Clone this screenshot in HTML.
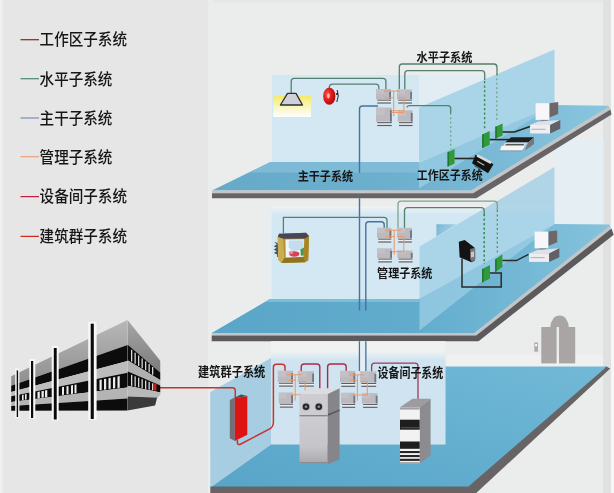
<!DOCTYPE html>
<html lang="zh"><head><meta charset="utf-8"><title>综合布线系统</title>
<style>
html,body{margin:0;padding:0;background:#ececec;}
body{width:614px;height:493px;overflow:hidden;font-family:"Liberation Sans","Noto Sans CJK SC",sans-serif;}
svg{display:block;}
svg text{font-family:"Liberation Sans","Noto Sans CJK SC",sans-serif;}
</style></head><body>
<svg width="614" height="493" viewBox="0 0 614 493">
<filter id="soft" x="-2%" y="-2%" width="104%" height="104%" color-interpolation-filters="sRGB"><feGaussianBlur stdDeviation="0.5"/></filter>
<rect x="-5" y="-5" width="624" height="503" fill="#ebecec"/>
<g filter="url(#soft)">
<defs>
<linearGradient id="glow" x1="0" y1="0" x2="0" y2="1"><stop offset="0" stop-color="#f3ea6a"/><stop offset="0.45" stop-color="#f8f4b4"/><stop offset="1" stop-color="#ffffff"/></linearGradient>
<linearGradient id="fl1" x1="0" y1="0" x2="1" y2="0"><stop offset="0" stop-color="#66aac9"/><stop offset="0.45" stop-color="#6cb0ce"/><stop offset="0.75" stop-color="#7cbbd7"/><stop offset="1" stop-color="#89c5de"/></linearGradient>
<linearGradient id="fl2" x1="0" y1="0" x2="1" y2="0"><stop offset="0" stop-color="#5aa6c8"/><stop offset="0.5" stop-color="#61accd"/><stop offset="0.8" stop-color="#76b9d6"/><stop offset="1" stop-color="#86c3dc"/></linearGradient>
<linearGradient id="fl3" x1="0" y1="1" x2="1" y2="0"><stop offset="0" stop-color="#58a5c8"/><stop offset="0.5" stop-color="#64afd0"/><stop offset="1" stop-color="#72b9d6"/></linearGradient>
<linearGradient id="bw" x1="0" y1="0" x2="0" y2="1"><stop offset="0" stop-color="#d2e7f3"/><stop offset="1" stop-color="#d8eaf4"/></linearGradient>
<radialGradient id="alarm" cx="0.35" cy="0.4" r="0.7"><stop offset="0" stop-color="#ff5a4a"/><stop offset="0.5" stop-color="#e01818"/><stop offset="1" stop-color="#a80808"/></radialGradient>
<linearGradient id="bldTop" x1="0" y1="0" x2="0" y2="1"><stop offset="0" stop-color="#b8b8b8"/><stop offset="1" stop-color="#8e8e8e"/></linearGradient>
<linearGradient id="bldSide" x1="0" y1="0" x2="0" y2="1"><stop offset="0" stop-color="#a6a6a6"/><stop offset="1" stop-color="#7c7c7c"/></linearGradient>

</defs>
<rect x="-5.0" y="-5.0" width="624.0" height="503.0" fill="#ebecec" />
<rect x="-5.0" y="-5.0" width="213.0" height="503.0" fill="#e6e6e6" />
<rect x="603.0" y="-5.0" width="8.0" height="503.0" fill="#e0e2e2" />
<rect x="611.0" y="-5.0" width="8.0" height="503.0" fill="#f6f6f6" />
<rect x="213.0" y="-5.0" width="390.0" height="7.6" fill="#e8e5e5" />
<rect x="-5.0" y="-5.0" width="7.5" height="503.0" fill="#f0f0f0" />
<linearGradient id="fade" x1="0" y1="0" x2="0" y2="1"><stop offset="0" stop-color="#f1f3f4"/><stop offset="1" stop-color="#d4e8f3"/></linearGradient>
<polygon points="271.5,214.0 554.5,214.0 554.5,224.0 419.0,299.5 271.5,299.5" fill="#d4e8f3" />
<rect x="271.5" y="206.5" width="283.0" height="8.0" fill="url(#fade)" />
<rect x="266.0" y="206.5" width="5.5" height="93.0" fill="#e6eef3" fill-opacity="0.6"/>
<rect x="554.5" y="140.0" width="49.0" height="84.5" fill="#e4eef3" />
<polygon points="211.7,333.0 269.8,299.0 419.0,299.0 554.5,224.0 609.0,224.5 610.5,226.5 474.5,333.0" fill="url(#fl2)" />
<polygon points="269.8,299.0 419.0,299.0 419.0,302.0 264.7,302.0" fill="#8cc4dc" fill-opacity="0.7"/>
<linearGradient id="tri" x1="0" y1="0" x2="1" y2="0.3"><stop offset="0" stop-color="#7ab5d4"/><stop offset="1" stop-color="#a9d2e6"/></linearGradient>
<polygon points="436.4,224.3 456.5,224.3 436.4,236.6" fill="url(#tri)" />
<polygon points="419.5,246.5 497.0,201.0 554.5,167.0 554.5,224.0 419.5,330.5" fill="#9ccde4" fill-opacity="0.75"/>
<polygon points="211.7,333.0 474.5,333.0 609.5,226.0 611.5,228.5 476.2,335.6 211.7,335.6" fill="#c2c6c8" />
<polygon points="211.7,335.6 476.2,335.6 611.5,228.5 613.7,234.8 478.5,341.2 211.7,341.2" fill="#5c5a5c" />
<rect x="272.0" y="75.0" width="147.0" height="88.0" fill="#d4e8f3" />
<rect x="419.0" y="75.0" width="79.0" height="40.0" fill="#e2edf3" />
<rect x="497.5" y="78.0" width="8.0" height="30.0" fill="#e7edf0" />
<polygon points="212.0,190.5 270.4,162.0 419.0,162.0 554.5,105.0 608.0,105.8 609.5,107.5 471.3,190.8" fill="url(#fl1)" />
<polygon points="270.4,162.0 419.0,162.0 419.0,172.5 249.0,172.5" fill="#86bfd9" fill-opacity="0.75"/>
<polygon points="419.0,107.5 554.5,49.5 554.5,105.0 419.0,163.0" fill="#d4e8f3" />
<polygon points="419.0,107.5 554.5,49.5 554.5,105.0 419.0,188.5" fill="#9ccde4" fill-opacity="0.75"/>
<polygon points="212.0,190.5 471.3,190.5 608.0,107.0 610.0,108.0 610.5,109.5 473.0,193.2 212.0,193.2" fill="#c2c6c8" />
<polygon points="212.0,193.2 473.0,193.2 610.5,109.5 611.5,114.5 476.3,198.3 212.0,198.3" fill="#686466" />
<rect x="446.0" y="355.0" width="157.0" height="12.0" fill="#f0f0f0" />
<linearGradient id="fade3" x1="0" y1="0" x2="0" y2="1"><stop offset="0" stop-color="#f0f2f3"/><stop offset="1" stop-color="#cfe4f0"/></linearGradient>
<rect x="271.0" y="341.2" width="174.5" height="10.0" fill="#f0f1f1" />
<rect x="271.0" y="351.0" width="174.5" height="10.0" fill="url(#fade3)" />
<rect x="271.0" y="360.8" width="174.5" height="83.7" fill="#cfe4f0" />
<polygon points="210.3,392.0 271.0,358.0 271.0,444.5 210.3,487.3" fill="#a6cde1" />
<polygon points="211.0,487.0 271.0,444.5 445.5,444.5 445.5,366.6 607.5,366.6 608.0,368.0 468.4,487.0" fill="url(#fl3)" />
<polygon points="210.3,486.6 468.4,486.6 604.6,368.5 606.0,366.6 610.3,368.6 469.8,499.0 210.3,499.0" fill="#686466" />
<path d="M550.4,327 A7.8,9.7 0 0 1 568.7,327 Z" fill="#a9a5a5"/>
<rect x="541.3" y="327.0" width="15.3" height="36.4" fill="#a9a5a5" />
<rect x="559.0" y="327.0" width="16.2" height="36.4" fill="#a9a5a5" />
<rect x="534.3" y="342.5" width="3.7" height="9.2" fill="#b0acac" />
<rect x="535.2" y="344.0" width="1.8" height="2.2" fill="#ffffff" />
<rect x="273.2" y="96.0" width="37.8" height="21.0" fill="url(#glow)" />
<path d="M291.2,93 V81.3 Q291.2,78.3 294.2,78.3 H382.9 Q385.9,78.3 385.9,81.3 V89" fill="none" stroke="#567f6e" stroke-width="1.3" />
<path d="M329.3,88.5 V87.4 Q329.3,84.2 332.7,84.2 H375.8 Q378.8,84.2 378.8,87.2 V89.3" fill="none" stroke="#567f6e" stroke-width="1.3" />
<polygon points="287.5,93.4 296,93.4 302.5,105 280.4,105" fill="#cfd0da" stroke="#2e2e2e" stroke-width="1.3" stroke-linejoin="round"/>
<path d="M337.2,90 Q339.5,96 336.8,102" fill="none" stroke="#3a2020" stroke-width="1"/>
<ellipse cx="329.3" cy="96.2" rx="6.1" ry="8.6" fill="url(#alarm)"/>
<ellipse cx="328.4" cy="95.8" rx="1.3" ry="2.6" fill="#ffd8d0" fill-opacity="0.85"/>
<circle cx="337" cy="94" r="1.1" fill="#1c1c1c"/>
<path d="M399.3,89 V67 Q399.3,64 402.3,64 H494 Q497,64.2 497,67.2 V75" fill="none" stroke="#567f6e" stroke-width="1.3" />
<path d="M404.8,89.5 V73.7 Q404.8,70.7 407.8,70.7 H481.7 Q484.7,70.7 484.7,73.7 V80" fill="none" stroke="#567f6e" stroke-width="1.3" />
<path d="M496.8,74 V121" fill="none" stroke="#62a374" stroke-width="1.2" stroke-dasharray="1.8 2.6"/>
<path d="M484.6,81 V130" fill="none" stroke="#3a8a4c" stroke-width="1.4" stroke-dasharray="2.2 2.3"/>
<path d="M407,107.6 Q407,105.6 410,105.6 H447.7 Q450.7,105.6 450.7,108.6 V113" fill="none" stroke="#567f6e" stroke-width="1.3" />
<path d="M450.7,113 V149" fill="none" stroke="#62a374" stroke-width="1.2" stroke-dasharray="1.8 2.6"/>
<path d="M378,106 H362.5 Q359.5,106 359.5,109 V172.7 M359.5,198.3 V310.5 M359.5,341.3 V371" fill="none" stroke="#4a70a0" stroke-width="1.4" />
<rect x="376.0" y="89.0" width="15.0" height="10.3" fill="#bcbabe" />
<rect x="376.0" y="89.0" width="8.2" height="5.1" fill="#c6c4c8" fill-opacity="0.7"/>
<rect x="389.2" y="91.5" width="1.8" height="7.8" fill="#74747e" />
<rect x="377.2" y="99.3" width="13.8" height="4.4" fill="#eceef0" />
<rect x="377.2" y="99.6" width="13.8" height="1.1" fill="#585e66" />
<rect x="377.2" y="102.4" width="13.8" height="1.2" fill="#585e66" />
<rect x="397.0" y="89.5" width="15.0" height="9.8" fill="#bcbabe" />
<rect x="397.0" y="89.5" width="8.2" height="4.9" fill="#c6c4c8" fill-opacity="0.7"/>
<rect x="410.2" y="92.0" width="1.8" height="7.3" fill="#74747e" />
<rect x="398.2" y="99.3" width="13.8" height="4.4" fill="#eceef0" />
<rect x="398.2" y="99.6" width="13.8" height="1.1" fill="#585e66" />
<rect x="398.2" y="102.4" width="13.8" height="1.2" fill="#585e66" />
<rect x="376.0" y="107.6" width="15.8" height="14.2" fill="#bcbabe" />
<rect x="376.0" y="107.6" width="8.7" height="7.1" fill="#c6c4c8" fill-opacity="0.7"/>
<rect x="390.0" y="110.1" width="1.8" height="11.7" fill="#74747e" />
<rect x="377.2" y="121.8" width="14.6" height="4.4" fill="#eceef0" />
<rect x="377.2" y="122.1" width="14.6" height="1.1" fill="#585e66" />
<rect x="377.2" y="124.9" width="14.6" height="1.2" fill="#585e66" />
<rect x="397.8" y="110.3" width="14.8" height="11.5" fill="#bcbabe" />
<rect x="397.8" y="110.3" width="8.1" height="5.8" fill="#c6c4c8" fill-opacity="0.7"/>
<rect x="410.8" y="112.8" width="1.8" height="9.0" fill="#74747e" />
<rect x="399.0" y="121.8" width="13.6" height="4.4" fill="#eceef0" />
<rect x="399.0" y="122.1" width="13.6" height="1.1" fill="#585e66" />
<rect x="399.0" y="124.9" width="13.6" height="1.2" fill="#585e66" />
<path d="M384.0,91.1 H400.0" fill="none" stroke="#e99a68" stroke-width="1.05" />
<path d="M384.7,97.7 H393.7 V116.3" fill="none" stroke="#e99a68" stroke-width="1.05" />
<path d="M393.7,91.1 V98.0" fill="none" stroke="#e99a68" stroke-width="1.05" />
<path d="M397.8,97.7 H403.9 V112.5 H391.3" fill="none" stroke="#e99a68" stroke-width="1.05" />
<path d="M391.3,110.8 H403.9" fill="none" stroke="#e99a68" stroke-width="1.05" />
<polygon points="447.6,152.2 454.6,149.0 454.6,163.5 447.6,166.7" fill="#2f9a3a" />
<polygon points="447.6,152.2 448.8,151.6 448.8,166.1 447.6,166.7" fill="#1d6a26" />
<polygon points="482.3,134.4 489.7,131.0 489.7,144.8 482.3,148.2" fill="#2f9a3a" />
<polygon points="482.3,134.4 483.5,133.8 483.5,147.6 482.3,148.2" fill="#1d6a26" />
<polygon points="495.4,126.8 502.6,123.6 502.6,135.6 495.4,138.8" fill="#2f9a3a" />
<polygon points="495.4,126.8 496.6,126.2 496.6,138.2 495.4,138.8" fill="#1d6a26" />
<path d="M454.6,158.5 H474" fill="none" stroke="#262626" stroke-width="1.6" />
<path d="M489.6,139.6 H509" fill="none" stroke="#262626" stroke-width="1.6" />
<path d="M502.5,132 H514.5 L530,126.6" fill="none" stroke="#262626" stroke-width="1.6" />
<polygon points="475.5,154.8 493.5,164.3 488.0,173.3 472.0,163.2" fill="#121212" />
<polygon points="477.6,154.2 491.6,161.6 490.4,164.0 476.4,156.6" fill="#dadada" />
<polygon points="477.5,160.8 484.5,164.8 484.0,165.8 477.0,161.8" fill="#bdbdbd" />
<polygon points="474.5,165.3 481.0,169.2 480.6,170.0 474.1,166.1" fill="#4a4a4a" />
<polygon points="505.0,142.6 511.0,137.3 534.0,137.3 528.0,142.6" fill="#1e1e1e" />
<polygon points="528.0,142.6 534.0,137.3 534.0,144.0 525.0,150.5" fill="#77777c" />
<polygon points="505.0,142.6 528.0,142.6 525.0,146.0 503.0,146.0" fill="#d6d6da" />
<polygon points="501.4,146.0 525.0,146.0 522.0,150.5 500.0,150.5" fill="#f4f4f6" />
<polygon points="506.0,144.3 524.0,144.3 523.5,145.2 505.5,145.2" fill="#2a2a2a" />
<polygon points="500.0,150.5 522.0,150.5 522.0,151.6 500.0,151.6" fill="#9c9ca2" />
<polygon points="549.3,103.2 558.2,102.0 558.2,113.9 549.3,117.5" fill="#6e6668" />
<polygon points="535.6,103.2 549.3,103.2 549.3,119.9 535.6,119.9" fill="#f7f7f9" />
<polygon points="540.6,119.9 547.6,119.9 547.6,121.8 540.6,121.8" fill="#8a8a90" />
<polygon points="530.1,125.0 538.6,121.6 560.3,119.9 550.1,125.0" fill="#e2e2e6" />
<polygon points="530.1,125.0 550.1,125.0 550.1,133.5 530.1,133.5" fill="#eeeef1" />
<polygon points="550.1,125.0 560.3,119.9 560.3,128.8 550.1,133.5" fill="#606066" />
<rect x="531.6" y="128.8" width="14.0" height="0.9" fill="#a8a8ae" />
<path d="M283.4,233 V217.3 H384 Q387,217.3 387,220.3 V228" fill="none" stroke="#567f6e" stroke-width="1.3" />
<path d="M384.2,228 V224.7 Q384.2,221.7 381.2,221.7 H368.8 Q365.8,221.7 365.8,224.7 V310.5 M365.8,341.3 V371" fill="none" stroke="#4a70a0" stroke-width="1.4" />
<rect x="360.3" y="341.3" width="4.8" height="29.7" fill="#e2edf4" />
<path d="M398,228 V204.2 Q398,201.2 401,201.2 H494.3 Q497.3,201.2 497.3,204.2 V210" fill="none" stroke="#7fa08c" stroke-width="1.25" />
<path d="M497.3,210 V253" fill="none" stroke="#4a9a5e" stroke-width="1.3" stroke-dasharray="2 2.5"/>
<path d="M404.5,228 V210.6 Q404.5,207.6 407.5,207.6 H481.2 Q484.2,207.6 484.2,210.6 V214" fill="none" stroke="#567f6e" stroke-width="1.3" />
<path d="M484.2,214 V264" fill="none" stroke="#2f8a44" stroke-width="1.5" stroke-dasharray="2.3 2.2"/>
<rect x="377.0" y="227.8" width="14.3" height="10.5" fill="#bcbabe" />
<rect x="377.0" y="227.8" width="7.9" height="5.2" fill="#c6c4c8" fill-opacity="0.7"/>
<rect x="389.5" y="230.3" width="1.8" height="8.0" fill="#74747e" />
<rect x="378.2" y="238.3" width="13.1" height="4.4" fill="#eceef0" />
<rect x="378.2" y="238.6" width="13.1" height="1.1" fill="#585e66" />
<rect x="378.2" y="241.4" width="13.1" height="1.2" fill="#585e66" />
<rect x="397.0" y="227.8" width="14.9" height="10.5" fill="#bcbabe" />
<rect x="397.0" y="227.8" width="8.2" height="5.2" fill="#c6c4c8" fill-opacity="0.7"/>
<rect x="410.1" y="230.3" width="1.8" height="8.0" fill="#74747e" />
<rect x="398.2" y="238.3" width="13.7" height="4.4" fill="#eceef0" />
<rect x="398.2" y="238.6" width="13.7" height="1.1" fill="#585e66" />
<rect x="398.2" y="241.4" width="13.7" height="1.2" fill="#585e66" />
<rect x="377.0" y="248.4" width="15.0" height="9.8" fill="#bcbabe" />
<rect x="377.0" y="248.4" width="8.2" height="4.9" fill="#c6c4c8" fill-opacity="0.7"/>
<rect x="390.2" y="250.9" width="1.8" height="7.3" fill="#74747e" />
<rect x="378.2" y="258.2" width="13.8" height="4.4" fill="#eceef0" />
<rect x="378.2" y="258.5" width="13.8" height="1.1" fill="#585e66" />
<rect x="378.2" y="261.3" width="13.8" height="1.2" fill="#585e66" />
<rect x="397.4" y="250.5" width="15.2" height="7.7" fill="#bcbabe" />
<rect x="397.4" y="250.5" width="8.4" height="3.8" fill="#c6c4c8" fill-opacity="0.7"/>
<rect x="410.8" y="253.0" width="1.8" height="5.2" fill="#74747e" />
<rect x="398.6" y="258.2" width="14.0" height="4.4" fill="#eceef0" />
<rect x="398.6" y="258.5" width="14.0" height="1.1" fill="#585e66" />
<rect x="398.6" y="261.3" width="14.0" height="1.2" fill="#585e66" />
<path d="M385.0,230.2 H401.0" fill="none" stroke="#e99a68" stroke-width="1.05" />
<path d="M385.7,236.4 H394.2 V254.8" fill="none" stroke="#e99a68" stroke-width="1.05" />
<path d="M394.2,230.2 V236.8" fill="none" stroke="#e99a68" stroke-width="1.05" />
<path d="M398.3,236.4 H403.8 V251.8 H392.0" fill="none" stroke="#e99a68" stroke-width="1.05" />
<g>
<path d="M277.6,243 l-3.4,-1.2 l2.6,2.8 l-3,1.6 l3,1.6 l-3,1.8 l3,1.6 l-3,1.8 l3.4,1.6 l-0.2,2.2 l3,0.6 Z" fill="#4c4c52"/>
<polygon points="279,233.8 306,232.8 309,236 308.2,260.3 305,262.2 281.5,263 278,259.5 277.8,237" fill="#b39230"/>
<polygon points="279,233.8 306,232.8 309,236 307,238.4 283,238.8 277.8,237" fill="#46465a"/>
<polygon points="277.8,237 283,238.8 284.5,258 281.5,263 278,259.5" fill="#c9ad52"/>
<polygon points="304.5,239 309,236 308.2,260.3 305,262.2 303.6,257" fill="#a88624"/>
<polygon points="284.5,258 303.6,257 305,262.2 281.5,263" fill="#8f7322"/>
<polygon points="285.4,239.6 304.2,239.2 303.6,256.8 285.8,257.6" fill="#eef5fa"/>
<polygon points="289,240.5 303.6,240.2 303.4,250 292,251 288.5,247" fill="#c3dcee"/>
<ellipse cx="294.3" cy="254" rx="5.2" ry="2.7" fill="#d8405a"/>
<ellipse cx="291" cy="252.6" rx="2.2" ry="1.6" fill="#e88a9a"/>
<polygon points="300.4,249.5 304,247.6 303.8,255.6 300.8,255.8" fill="#3e9e48"/>
</g>
<polygon points="458.8,241.8 464.7,240.0 474.4,247.5 474.6,260.8 471.5,262.2 459.6,257.2" fill="#131313" />
<polygon points="470.2,249.0 475.2,247.8 475.4,259.5 471.8,262.0 470.2,259.0" fill="#77777c" />
<polygon points="471.0,252.0 474.0,251.4 474.0,256.8 471.0,257.4" fill="#c8c8cc" />
<path d="M462,258.5 V287 H501.2 V273 H488" fill="none" stroke="#2a2a2a" stroke-width="1.5" />
<polygon points="482.2,269.0 490.0,265.0 490.0,278.6 482.2,282.6" fill="#2f9a3a" />
<polygon points="482.2,269.0 483.4,268.4 483.4,282.0 482.2,282.6" fill="#1d6a26" />
<polygon points="495.3,259.2 502.4,254.3 502.4,267.0 495.3,271.9" fill="#2f9a3a" />
<polygon points="495.3,259.2 496.5,258.6 496.5,271.3 495.3,271.9" fill="#1d6a26" />
<path d="M502.4,260.6 H516.4 L528.5,254.3" fill="none" stroke="#2a2a2a" stroke-width="1.5" />
<polygon points="548.3,231.6 557.2,230.4 557.2,242.3 548.3,245.9" fill="#6e6668" />
<polygon points="534.6,231.6 548.3,231.6 548.3,248.3 534.6,248.3" fill="#f7f7f9" />
<polygon points="539.6,248.3 546.6,248.3 546.6,250.2 539.6,250.2" fill="#8a8a90" />
<polygon points="529.1,253.4 537.6,250.0 559.3,248.3 549.1,253.4" fill="#e2e2e6" />
<polygon points="529.1,253.4 549.1,253.4 549.1,261.9 529.1,261.9" fill="#eeeef1" />
<polygon points="549.1,253.4 559.3,248.3 559.3,257.2 549.1,261.9" fill="#606066" />
<rect x="530.6" y="257.2" width="14.0" height="0.9" fill="#a8a8ae" />
<path d="M156,387.8 H232.3 Q235.3,387.8 235.3,390.8 V398" fill="none" stroke="#c5332a" stroke-width="1.4" />
<polygon points="229.8,400.0 234.8,398.3 234.8,441.0 229.8,438.2" fill="#707074" />
<polygon points="234.8,398.3 247.3,396.0 247.3,434.7 234.8,441.0" fill="#dc1414" />
<polygon points="229.8,400.0 241.0,394.5 247.3,396.0 234.8,398.3" fill="#4c4c4e" />
<path d="M237.4,440 V442.6 Q237.4,445.4 240.4,444.2 L270.6,428.4 Q273.4,426 273.4,423 V367.3 Q273.4,364.3 276.4,364.3 H282 Q285,364.3 285,367.3 V372" fill="none" stroke="#c5332a" stroke-width="1.5" />
<path d="M301.2,372 V367 Q301.2,364 304.2,364 H316.8 Q319.8,364 319.8,367 V390" fill="none" stroke="#b02848" stroke-width="1.4" />
<path d="M327.6,390 V367 Q327.6,364 330.6,364 H343.2 Q346.2,364 346.2,367 V371" fill="none" stroke="#b02848" stroke-width="1.4" />
<path d="M371.6,371.5 V366.2 Q371.6,363.2 374.6,363.2 H415 Q418,363.2 418,366.2 V401" fill="none" stroke="#a03a58" stroke-width="1.3" />
<rect x="277.8" y="370.7" width="15.2" height="11.7" fill="#bcbabe" />
<rect x="277.8" y="370.7" width="8.4" height="5.9" fill="#c6c4c8" fill-opacity="0.7"/>
<rect x="291.2" y="373.2" width="1.8" height="9.2" fill="#74747e" />
<rect x="279.0" y="382.4" width="14.0" height="4.4" fill="#eceef0" />
<rect x="279.0" y="382.7" width="14.0" height="1.1" fill="#585e66" />
<rect x="279.0" y="385.5" width="14.0" height="1.2" fill="#585e66" />
<rect x="297.9" y="371.2" width="16.1" height="11.2" fill="#bcbabe" />
<rect x="297.9" y="371.2" width="8.9" height="5.6" fill="#c6c4c8" fill-opacity="0.7"/>
<rect x="312.2" y="373.7" width="1.8" height="8.7" fill="#74747e" />
<rect x="299.1" y="382.4" width="14.9" height="4.4" fill="#eceef0" />
<rect x="299.1" y="382.7" width="14.9" height="1.1" fill="#585e66" />
<rect x="299.1" y="385.5" width="14.9" height="1.2" fill="#585e66" />
<rect x="278.7" y="392.6" width="14.3" height="10.8" fill="#bcbabe" />
<rect x="278.7" y="392.6" width="7.9" height="5.4" fill="#c6c4c8" fill-opacity="0.7"/>
<rect x="291.2" y="395.1" width="1.8" height="8.3" fill="#74747e" />
<rect x="279.9" y="403.4" width="13.1" height="4.4" fill="#eceef0" />
<rect x="279.9" y="403.7" width="13.1" height="1.1" fill="#585e66" />
<rect x="279.9" y="406.5" width="13.1" height="1.2" fill="#585e66" />
<rect x="299.7" y="393.0" width="15.6" height="10.4" fill="#bcbabe" />
<rect x="299.7" y="393.0" width="8.6" height="5.2" fill="#c6c4c8" fill-opacity="0.7"/>
<rect x="313.5" y="395.5" width="1.8" height="7.9" fill="#74747e" />
<rect x="300.9" y="403.4" width="14.4" height="4.4" fill="#eceef0" />
<rect x="300.9" y="403.7" width="14.4" height="1.1" fill="#585e66" />
<rect x="300.9" y="406.5" width="14.4" height="1.2" fill="#585e66" />
<path d="M286.8,374.7 H301.8" fill="none" stroke="#e99a68" stroke-width="1.05" />
<path d="M287.2,380.1 H295.2 V400.6" fill="none" stroke="#e99a68" stroke-width="1.05" />
<path d="M295.2,374.7 V380.7" fill="none" stroke="#e99a68" stroke-width="1.05" />
<path d="M298.8,381.4 H305.1 V394.8 H291.2" fill="none" stroke="#e99a68" stroke-width="1.05" />
<rect x="340.0" y="370.9" width="15.2" height="11.7" fill="#bcbabe" />
<rect x="340.0" y="370.9" width="8.4" height="5.9" fill="#c6c4c8" fill-opacity="0.7"/>
<rect x="353.4" y="373.4" width="1.8" height="9.2" fill="#74747e" />
<rect x="341.2" y="382.6" width="14.0" height="4.4" fill="#eceef0" />
<rect x="341.2" y="382.9" width="14.0" height="1.1" fill="#585e66" />
<rect x="341.2" y="385.7" width="14.0" height="1.2" fill="#585e66" />
<rect x="360.1" y="371.4" width="16.1" height="11.2" fill="#bcbabe" />
<rect x="360.1" y="371.4" width="8.9" height="5.6" fill="#c6c4c8" fill-opacity="0.7"/>
<rect x="374.4" y="373.9" width="1.8" height="8.7" fill="#74747e" />
<rect x="361.3" y="382.6" width="14.9" height="4.4" fill="#eceef0" />
<rect x="361.3" y="382.9" width="14.9" height="1.1" fill="#585e66" />
<rect x="361.3" y="385.7" width="14.9" height="1.2" fill="#585e66" />
<rect x="340.9" y="392.8" width="14.3" height="10.8" fill="#bcbabe" />
<rect x="340.9" y="392.8" width="7.9" height="5.4" fill="#c6c4c8" fill-opacity="0.7"/>
<rect x="353.4" y="395.3" width="1.8" height="8.3" fill="#74747e" />
<rect x="342.1" y="403.6" width="13.1" height="4.4" fill="#eceef0" />
<rect x="342.1" y="403.9" width="13.1" height="1.1" fill="#585e66" />
<rect x="342.1" y="406.7" width="13.1" height="1.2" fill="#585e66" />
<rect x="361.9" y="393.2" width="15.6" height="10.4" fill="#bcbabe" />
<rect x="361.9" y="393.2" width="8.6" height="5.2" fill="#c6c4c8" fill-opacity="0.7"/>
<rect x="375.7" y="395.7" width="1.8" height="7.9" fill="#74747e" />
<rect x="363.1" y="403.6" width="14.4" height="4.4" fill="#eceef0" />
<rect x="363.1" y="403.9" width="14.4" height="1.1" fill="#585e66" />
<rect x="363.1" y="406.7" width="14.4" height="1.2" fill="#585e66" />
<path d="M349.0,374.9 H364.0" fill="none" stroke="#e99a68" stroke-width="1.05" />
<path d="M349.4,380.3 H357.4 V400.8" fill="none" stroke="#e99a68" stroke-width="1.05" />
<path d="M357.4,374.9 V380.9" fill="none" stroke="#e99a68" stroke-width="1.05" />
<path d="M361.0,381.6 H367.3 V395.0 H353.4" fill="none" stroke="#e99a68" stroke-width="1.05" />
<linearGradient id="cabF" x1="0" y1="0" x2="0" y2="1"><stop offset="0" stop-color="#d2d2d6"/><stop offset="0.75" stop-color="#c6c6ca"/><stop offset="1" stop-color="#a8a8ae"/></linearGradient>
<polygon points="299.5,394.2 308.2,388.2 339.6,388.2 327.4,394.2" fill="#dcdce0" />
<polygon points="327.4,394.2 339.6,388.2 339.6,459.5 327.4,464.5" fill="#86868a" />
<polygon points="327.4,414.2 339.6,409.5 339.6,411.0 327.4,416.0" fill="#55555a" />
<rect x="299.5" y="394.2" width="27.9" height="69.3" fill="url(#cabF)" />
<rect x="299.5" y="394.2" width="27.9" height="21.4" fill="#cdcdd1" />
<rect x="299.5" y="415.2" width="27.9" height="1.1" fill="#74747a" />
<rect x="299.5" y="462.0" width="27.9" height="1.5" fill="#8a8a90" />
<circle cx="306.0" cy="406.8" r="4.3" fill="#b4b4ba"/><circle cx="306.0" cy="406.8" r="3.3" fill="#26262a"/><circle cx="306.0" cy="406.8" r="1.3" fill="#8e8e96"/>
<circle cx="318.8" cy="406.8" r="4.3" fill="#b4b4ba"/><circle cx="318.8" cy="406.8" r="3.3" fill="#26262a"/><circle cx="318.8" cy="406.8" r="1.3" fill="#8e8e96"/>
<polygon points="400.0,407.3 412.4,398.7 430.6,398.7 419.7,407.3" fill="#9c9ca0" />
<polygon points="419.7,407.3 430.6,398.7 430.6,455.5 419.7,463.4" fill="#8c8c90" />
<rect x="400.0" y="407.3" width="19.7" height="56.1" fill="#f2f2f2" />
<rect x="400.0" y="407.3" width="19.7" height="2.3" fill="#a2a2a6" />
<rect x="400.0" y="419.7" width="19.7" height="10.0" fill="#1e1e1e" />
<rect x="401.0" y="427.3" width="18.7" height="0.9" fill="#5a5a5a" />
<rect x="400.0" y="441.5" width="19.7" height="7.3" fill="#1e1e1e" />
<rect x="400.0" y="451.0" width="19.7" height="2.1" fill="#262626" />
<rect x="400.0" y="455.0" width="19.7" height="2.1" fill="#262626" />
<rect x="400.0" y="458.8" width="19.7" height="2.1" fill="#262626" />
<rect x="400.0" y="462.3" width="19.7" height="1.1" fill="#8a8a8a" />
<polygon points="11.2,376.3 127.5,320.0 127.5,345.0 11.2,385.8" fill="url(#bldTop)" />
<polygon points="11.2,385.8 127.5,345.0 127.5,361.0 11.2,391.9" fill="#0c0c0c" />
<polygon points="11.2,391.9 127.5,361.0 127.5,372.8 11.2,396.3" fill="#bdbdbd" />
<polygon points="11.2,396.3 127.5,372.8 127.5,387.4 11.2,401.9" fill="#0c0c0c" />
<polygon points="11.2,401.9 127.5,387.4 127.5,398.6 11.2,406.1" fill="#b4b4b4" />
<polygon points="11.2,406.1 127.5,398.6 127.5,410.6 11.2,410.7" fill="#0c0c0c" />
<polygon points="99.5,380.0 101.7,379.5 101.7,390.0 99.5,390.3" fill="#ededed" />
<polygon points="104.0,379.1 106.2,378.7 106.2,389.4 104.0,389.7" fill="#ededed" />
<polygon points="108.5,378.2 110.7,377.8 110.7,388.8 108.5,389.1" fill="#ededed" />
<polygon points="113.0,377.4 115.2,376.9 115.2,388.2 113.0,388.5" fill="#ededed" />
<polygon points="117.5,376.5 119.7,376.1 119.7,387.7 117.5,388.0" fill="#ededed" />
<polygon points="62.0,387.2 64.0,386.8 64.0,394.8 62.0,395.1" fill="#ededed" />
<polygon points="66.5,386.3 68.5,385.9 68.5,394.2 66.5,394.5" fill="#ededed" />
<polygon points="71.0,385.5 73.0,385.1 73.0,393.7 71.0,393.9" fill="#ededed" />
<polygon points="74.5,384.8 76.5,384.4 76.5,393.2 74.5,393.5" fill="#ededed" />
<polygon points="37.5,391.9 39.8,391.5 39.8,397.9 37.5,398.2" fill="#ededed" />
<polygon points="41.5,391.2 43.8,390.7 43.8,397.4 41.5,397.7" fill="#ededed" />
<polygon points="45.0,390.5 47.3,390.0 47.3,397.0 45.0,397.3" fill="#ededed" />
<polygon points="22.0,394.9 23.6,394.6 23.6,400.0 22.0,400.2" fill="#ededed" />
<polygon points="25.0,394.3 26.6,394.0 26.6,399.6 25.0,399.8" fill="#ededed" />
<clipPath id="bclip"><polygon points="127.5,300 160.5,300 160.5,394.6 157.0,398.1 151.5,420 127.5,420"/></clipPath>
<g clip-path="url(#bclip)">
<polygon points="127.5,320.0 160.5,361.0 160.5,372.8 127.5,344.6" fill="url(#bldSide)" />
<polygon points="127.5,344.6 160.5,372.8 160.5,380.3 127.5,360.2" fill="#0c0c0c" />
<polygon points="127.5,360.2 160.5,380.3 160.5,385.6 127.5,371.3" fill="#b0b0b0" />
<polygon points="127.5,371.3 160.5,385.6 160.5,392.6 127.5,385.8" fill="#0c0c0c" />
<polygon points="127.5,385.8 160.5,392.6 160.5,397.7 127.5,396.5" fill="#b8b8b8" />
<polygon points="127.5,396.5 160.5,397.7 160.5,404.4 127.5,410.4" fill="#3a3a3a" />
<rect x="131.0" y="349.8" width="1.3" height="11.8" fill="#d8d8d8" />
<rect x="134.5" y="352.7" width="1.3" height="11.1" fill="#d8d8d8" />
<rect x="138.0" y="355.5" width="1.3" height="10.4" fill="#d8d8d8" />
<rect x="141.5" y="358.4" width="1.3" height="9.7" fill="#d8d8d8" />
<rect x="145.0" y="361.3" width="1.3" height="9.0" fill="#d8d8d8" />
<rect x="148.5" y="364.1" width="1.3" height="8.3" fill="#d8d8d8" />
<rect x="152.0" y="367.0" width="1.3" height="7.7" fill="#d8d8d8" />
<rect x="131.0" y="374.9" width="1.3" height="11.0" fill="#d8d8d8" />
<rect x="134.5" y="376.3" width="1.3" height="10.3" fill="#d8d8d8" />
<rect x="138.0" y="377.7" width="1.3" height="9.7" fill="#d8d8d8" />
<rect x="141.5" y="379.1" width="1.3" height="9.0" fill="#d8d8d8" />
<rect x="145.0" y="380.5" width="1.3" height="8.4" fill="#d8d8d8" />
<rect x="148.5" y="381.9" width="1.3" height="7.8" fill="#d8d8d8" />
<rect x="152.0" y="383.3" width="1.3" height="7.1" fill="#d8d8d8" />
</g>
<rect x="153.5" y="383.5" width="3.0" height="7.0" fill="#c02020" />
<rect x="15.2" y="368.4" width="4.2" height="49.6" fill="#f7f7f7" />
<rect x="16.7" y="370.4" width="1.4" height="46.6" fill="#0a0a0a" />
<rect x="29.3" y="359.0" width="6.0" height="60.0" fill="#f7f7f7" />
<rect x="31.0" y="361.0" width="2.2" height="57.0" fill="#0a0a0a" />
<rect x="51.7" y="346.0" width="7.0" height="74.5" fill="#f7f7f7" />
<rect x="53.8" y="348.0" width="2.9" height="71.5" fill="#0a0a0a" />
<rect x="88.2" y="321.7" width="8.4" height="98.3" fill="#f7f7f7" />
<rect x="90.7" y="323.7" width="3.1" height="95.3" fill="#0a0a0a" />
<path d="M20.5,39.7 H39" fill="none" stroke="#8c2d1e" stroke-width="1.25" />
<text x="39.6" y="45.3" font-size="15.9" font-weight="500" textLength="87.4" lengthAdjust="spacingAndGlyphs" fill="#161616">工作区子系统</text>
<path d="M20.5,78.7 H39" fill="none" stroke="#4f8a7c" stroke-width="1.25" />
<text x="39.6" y="84.8" font-size="15.9" font-weight="500" textLength="72.8" lengthAdjust="spacingAndGlyphs" fill="#161616">水平子系统</text>
<path d="M20.5,118.0 H39" fill="none" stroke="#7f8fb6" stroke-width="1.25" />
<text x="39.6" y="123.5" font-size="15.9" font-weight="500" textLength="72.8" lengthAdjust="spacingAndGlyphs" fill="#161616">主干子系统</text>
<path d="M20.5,156.7 H39" fill="none" stroke="#eaa27e" stroke-width="1.25" />
<text x="39.6" y="162.7" font-size="15.9" font-weight="500" textLength="72.8" lengthAdjust="spacingAndGlyphs" fill="#161616">管理子系统</text>
<path d="M20.5,196.6 H39" fill="none" stroke="#c22040" stroke-width="1.25" />
<text x="39.6" y="202.0" font-size="15.9" font-weight="500" textLength="87.4" lengthAdjust="spacingAndGlyphs" fill="#161616">设备间子系统</text>
<path d="M20.5,236.4 H39" fill="none" stroke="#cc2c1c" stroke-width="1.25" />
<text x="39.6" y="241.5" font-size="15.9" font-weight="500" textLength="87.4" lengthAdjust="spacingAndGlyphs" fill="#161616">建筑群子系统</text>
<text x="416.6" y="61.8" font-size="12.4" font-weight="bold" textLength="55.8" lengthAdjust="spacingAndGlyphs" fill="#161616">水平子系统</text>
<text x="297.7" y="180.7" font-size="12.2" font-weight="bold" textLength="55.4" lengthAdjust="spacingAndGlyphs" fill="#161616">主干子系统</text>
<text x="416.8" y="180.0" font-size="12.2" font-weight="bold" textLength="65.9" lengthAdjust="spacingAndGlyphs" fill="#161616">工作区子系统</text>
<text x="377.1" y="277.7" font-size="12.2" font-weight="bold" textLength="55.3" lengthAdjust="spacingAndGlyphs" fill="#161616">管理子系统</text>
<text x="198.1" y="376.2" font-size="12.6" font-weight="bold" textLength="67.2" lengthAdjust="spacingAndGlyphs" fill="#161616">建筑群子系统</text>
<text x="377.5" y="376.8" font-size="12.6" font-weight="bold" textLength="65.8" lengthAdjust="spacingAndGlyphs" fill="#161616">设备间子系统</text>
</g>
</svg>
</body></html>
